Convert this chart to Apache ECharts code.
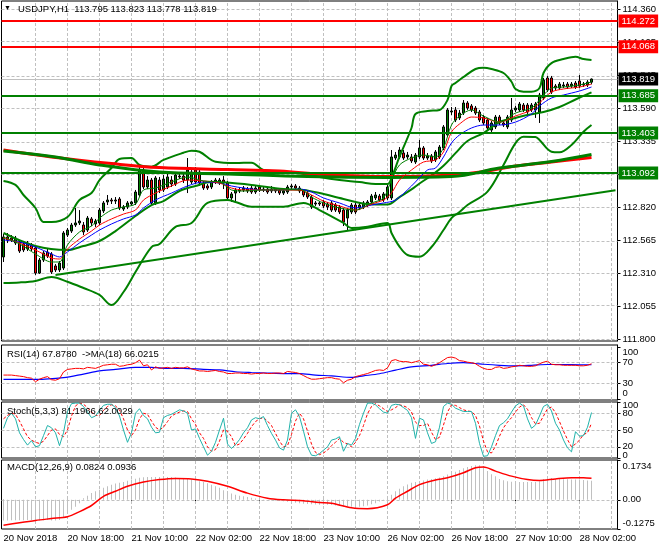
<!DOCTYPE html>
<html><head><meta charset="utf-8">
<script src="https://cdn.jsdelivr.net/npm/echarts@6/dist/echarts.min.js"></script>
<style>html,body{margin:0;padding:0;background:#fff}#c{width:660px;height:550px}</style>
</head><body><div id="c"></div>
<script>
// ---------- data ----------
const xTickLabels = ['20 Nov 2018','20 Nov 18:00','21 Nov 10:00','22 Nov 02:00','22 Nov 18:00','23 Nov 10:00','26 Nov 02:00','26 Nov 18:00','27 Nov 10:00','28 Nov 02:00'];
const priceTickLabels = ['114.360','114.105','113.845','113.590','113.335','113.080','112.820','112.565','112.310','112.055','111.800'];

const opens = [112.438,112.593,112.585,112.546,112.554,112.539,112.500,112.531,112.508,112.313,
112.414,112.476,112.461,112.368,112.337,112.352,112.608,112.639,112.686,112.702,
112.686,112.647,112.733,112.694,112.702,112.795,112.865,112.880,112.872,112.888,
112.810,112.826,112.849,112.857,112.919,113.113,112.981,113.035,112.857,113.035,
112.958,112.981,113.035,113.004,113.066,113.066,113.035,113.020,113.113,113.097,
113.012,112.989,112.981,113.020,113.012,113.035,113.012,112.896,112.934,112.950,
112.958,112.965,112.973,112.942,112.981,112.958,112.965,112.950,112.965,112.958,
112.934,112.942,112.981,112.989,112.973,112.950,112.934,112.903,112.849,112.857,
112.865,112.849,112.857,112.841,112.826,112.802,112.740,112.787,112.841,112.818,
112.826,112.841,112.865,112.896,112.911,112.880,112.896,112.896,113.206,113.214,
113.245,113.214,113.214,113.175,113.214,113.284,113.206,113.222,113.191,113.214,
113.284,113.385,113.563,113.579,113.517,113.555,113.633,113.610,113.594,113.563,
113.524,113.501,113.423,113.447,113.524,113.478,113.447,113.501,113.579,113.579,
113.617,113.617,113.579,113.579,113.563,113.672,113.827,113.827,113.765,113.749,
113.765,113.780,113.765,113.788,113.804,113.773,113.773,113.795];
const closes = [112.593,112.570,112.570,112.585,112.484,112.492,112.546,112.500,112.313,112.414,
112.469,112.445,112.321,112.337,112.391,112.624,112.647,112.686,112.702,112.717,
112.632,112.740,112.702,112.717,112.802,112.857,112.880,112.872,112.880,112.818,
112.826,112.857,112.865,112.942,113.113,112.981,113.035,112.857,113.051,112.958,
113.043,113.059,113.004,113.074,113.059,113.035,113.113,113.097,113.020,113.012,
112.973,112.973,113.020,113.035,113.035,113.012,112.896,112.927,112.958,112.958,
112.973,112.950,112.942,112.973,112.958,112.965,112.942,112.965,112.950,112.934,
112.950,112.981,112.989,112.973,112.950,112.919,112.903,112.826,112.857,112.849,
112.834,112.826,112.802,112.802,112.787,112.709,112.802,112.841,112.787,112.841,
112.857,112.865,112.911,112.919,112.880,112.927,112.981,113.214,113.229,113.268,
113.206,113.229,113.183,113.229,113.284,113.206,113.222,113.183,113.253,113.291,
113.447,113.579,113.571,113.501,113.555,113.633,113.594,113.579,113.555,113.501,
113.478,113.439,113.478,113.524,113.478,113.462,113.524,113.579,113.594,113.625,
113.579,113.563,113.617,113.625,113.695,113.811,113.734,113.718,113.749,113.780,
113.773,113.757,113.780,113.757,113.765,113.780,113.796,113.819];
const lows = [112.399,112.546,112.554,112.531,112.469,112.476,112.484,112.484,112.298,112.306,
112.399,112.430,112.306,112.321,112.321,112.337,112.593,112.624,112.671,112.686,
112.608,112.632,112.678,112.671,112.686,112.779,112.841,112.849,112.849,112.802,
112.795,112.810,112.834,112.841,112.903,112.965,112.965,112.841,112.841,112.934,
112.942,112.965,112.981,112.989,113.043,113.012,112.934,113.004,113.004,112.989,
112.958,112.958,112.965,113.004,112.997,112.965,112.872,112.865,112.865,112.934,
112.942,112.934,112.927,112.927,112.942,112.942,112.927,112.934,112.934,112.919,
112.919,112.927,112.965,112.958,112.934,112.903,112.888,112.810,112.834,112.834,
112.818,112.802,112.787,112.787,112.771,112.678,112.647,112.771,112.771,112.802,
112.810,112.826,112.849,112.880,112.865,112.865,112.880,112.880,113.191,113.198,
113.191,113.198,113.167,113.160,113.198,113.191,113.191,113.167,113.175,113.198,
113.268,113.369,113.540,113.485,113.501,113.540,113.579,113.563,113.540,113.485,
113.462,113.423,113.408,113.431,113.462,113.447,113.431,113.485,113.563,113.563,
113.563,113.548,113.563,113.517,113.478,113.656,113.718,113.703,113.734,113.734,
113.749,113.742,113.749,113.742,113.749,113.757,113.757,113.778];
const highs = [112.616,112.624,112.608,112.601,112.570,112.554,112.562,112.546,112.523,112.430,
112.484,112.500,112.476,112.383,112.407,112.639,112.663,112.702,112.818,112.802,
112.709,112.756,112.748,112.733,112.818,112.872,112.919,112.896,112.903,112.903,
112.841,112.872,112.872,112.958,113.136,113.128,113.066,113.051,113.066,113.059,
113.074,113.082,113.066,113.097,113.090,113.082,113.206,113.113,113.136,113.113,
113.028,113.004,113.035,113.051,113.051,113.066,113.028,112.942,112.973,112.981,
112.989,112.981,112.989,112.989,112.997,112.981,112.981,112.989,112.973,112.973,
112.965,112.997,113.004,113.004,112.989,112.965,112.950,112.919,112.872,112.872,
112.880,112.865,112.872,112.857,112.841,112.818,112.818,112.857,112.857,112.857,
112.872,112.880,112.927,112.942,112.927,112.942,112.997,113.268,113.253,113.291,
113.268,113.253,113.237,113.245,113.346,113.299,113.245,113.237,113.268,113.307,
113.462,113.594,113.602,113.602,113.579,113.656,113.648,113.625,113.610,113.579,
113.540,113.517,113.493,113.540,113.540,113.493,113.540,113.672,113.610,113.641,
113.633,113.633,113.633,113.641,113.711,113.827,113.843,113.843,113.780,113.796,
113.796,113.796,113.796,113.804,113.850,113.796,113.811,113.823];

// Bollinger bands (read at sampled bars: [bar, price])
const bbUpper = [[0,113.028],[3,112.997],[5,112.919],[8,112.818],[10,112.709],[12,112.709],[16,112.748],[19,112.880],[22,112.934],[24,113.035],[27,113.128],[29,113.198],[32,113.206],[34,113.152],[37,113.139],[40,113.191],[45,113.247],[47,113.263],[49,113.255],[53,113.177],[58,113.167],[62,113.170],[65,113.113],[70,113.100],[77,113.074],[79,113.059],[84,113.035],[89,113.020],[93,113.004],[96,113.004],[97,113.051],[99,113.216],[102,113.439],[103,113.548],[106,113.571],[109,113.579],[111,113.656],[112,113.765],[113,113.788],[115,113.835],[118,113.897],[120,113.907],[122,113.897],[125,113.866],[127,113.798],[128,113.742],[130,113.721],[132,113.721],[134,113.749],[135,113.866],[137,113.943],[140,113.974],[143,113.992],[145,113.974],[147,113.967]];
const bbMiddle = [[0,112.624],[8,112.523],[16,112.492],[20,112.523],[24,112.562],[28,112.639],[33,112.756],[37,112.841],[40,112.872],[44,112.950],[48,112.989],[52,113.020],[56,113.016],[62,112.997],[70,112.965],[75,112.958],[79,112.934],[85,112.888],[91,112.849],[96,112.845],[99,112.903],[102,112.962],[104,113.008],[107,113.071],[110,113.146],[113,113.244],[116,113.338],[120,113.400],[124,113.485],[128,113.517],[131,113.540],[135,113.563],[139,113.602],[143,113.660],[147,113.716]];
const bbLower = [[0,112.236],[4,112.240],[8,112.252],[12,112.282],[16,112.246],[20,112.197],[24,112.143],[27,112.065],[30,112.166],[33,112.321],[37,112.515],[39,112.539],[43,112.671],[47,112.702],[51,112.857],[56,112.880],[58,112.865],[62,112.828],[70,112.828],[75,112.857],[79,112.802],[85,112.702],[87,112.663],[91,112.673],[96,112.702],[97,112.624],[99,112.518],[101,112.453],[104,112.440],[107,112.515],[110,112.647],[112,112.740],[114,112.787],[116,112.841],[121,112.945],[125,113.152],[128,113.322],[130,113.371],[133,113.369],[134,113.346],[137,113.255],[139,113.250],[142,113.307],[145,113.410],[147,113.462]];
// slow moving averages
const slowMaRed = [[0,113.268],[12,113.214],[27,113.163],[39,113.132],[56,113.117],[69,113.105],[80,113.078],[96,113.062],[112,113.074],[120,113.101],[128,113.144],[137,113.175],[147,113.210]];
const slowMaGreen = [[0,113.260],[13,113.214],[24,113.152],[39,113.097],[56,113.082],[76,113.062],[96,113.055],[112,113.062],[124,113.128],[137,113.179],[147,113.233]];
// fast moving averages
const fastMaBars = [0,4,8,12,14,16,19,22,24,27,30,33,35,38,42,46,50,54,57,60,65,70,74,77,80,84,88,92,95,97,99,102,105,108,110,112,114,117,120,124,128,132,134,137,140,144,147];
const fastMaRed = [112.585,112.546,112.492,112.430,112.422,112.500,112.577,112.639,112.686,112.733,112.771,112.802,112.880,112.934,112.989,113.035,113.028,113.012,112.973,112.958,112.958,112.958,112.958,112.919,112.872,112.834,112.802,112.849,112.880,112.934,113.035,113.113,113.175,113.191,113.253,113.408,113.470,113.524,113.517,113.485,113.532,113.579,113.633,113.718,113.742,113.757,113.780];
const fastMaGreen = [112.593,112.539,112.461,112.399,112.399,112.531,112.632,112.678,112.740,112.802,112.826,112.849,112.958,112.973,113.020,113.059,113.028,113.020,112.958,112.950,112.958,112.958,112.965,112.903,112.857,112.818,112.802,112.857,112.896,113.035,113.152,113.206,113.229,113.214,113.284,113.462,113.532,113.579,113.532,113.485,113.555,113.594,113.656,113.749,113.757,113.773,113.796];
const fastMaBlue = [[0,112.570],[4,112.554],[8,112.515],[12,112.461],[14,112.438],[16,112.477],[19,112.547],[22,112.608],[24,112.647],[27,112.694],[30,112.733],[33,112.764],[35,112.818],[38,112.880],[42,112.934],[46,112.989],[50,113.020],[54,113.012],[57,112.989],[60,112.973],[65,112.958],[70,112.958],[74,112.965],[77,112.942],[80,112.896],[84,112.857],[88,112.818],[92,112.841],[95,112.857],[98,112.880],[102,112.989],[106,113.113],[108,113.128],[110,113.214],[112,113.323],[114,113.385],[117,113.439],[120,113.462],[124,113.462],[128,113.485],[132,113.548],[134,113.610],[137,113.672],[140,113.695],[144,113.726],[147,113.757]];
// levels
const resistanceLevels = ['114.272', '114.068'];
const supportLevels = ['113.685', '113.403', '113.092'];
const lastPrice = '113.819';
const trendLine = [[13,112.298],[153,112.956]];

// RSI(14) and its MA(18)
const rsi = [46,46,46,45,44,43,41,40,33,38, 41,43,37,36,39,52,57,58,59,59, 58,61,60,59,62,65,66,67,67,63,
64,66,67,70,75,64,66,56,62,59, 60,61,59,61,60,60,62,58,56,54, 54,53,54,55,53,52,49,49,50,50,
49,49,48,49,49,50,49,49,50,50, 49,53,52,51,49,45,41,38,38,39, 40,41,41,39,38,31,36,38,43,45,
47,49,52,55,56,55,60,74,76,73, 72,72,70,72,74,67,66,63,66,70, 75,80,81,79,74,73,71,70,68,63,
59,57,57,61,62,59,60,62,63,65, 64,63,63,64,68,71,73,67,66,66, 65,65,65,65,64,64,65,67.878];
const rsiMa = [[0,37.6],[8,37.6],[15,41],[20,48],[24,54],[28,57],[33,61],[37,61],[41,59],[45,59],[50,57],[54,56],[58,52.5],[62,51],[66,50],[70,49],[74,49],[78,46],[82,44.5],[87,41.5],[90,44.5],[94,48.6],[98,55.6],[102,62],[107,65],[111,68.5],[115,70],[118,68.5],[120,67],[124,65],[128,64],[132,65],[136,66.5],[140,66.5],[144,66],[147,66.02]];
// Stochastic(5,3,3)
const stochK = [53,72,80,70,45,33,23,31,20,22, 40,58,54,45,22,45,83,97,98,98, 92,82,72,75,85,94,96,96,90,75,
50,28,45,80,88,76,70,55,45,46, 72,76,78,82,86,84,80,50,52,35, 20,5,12,28,50,71,25,17,24,33,
45,54,68,72,70,74,58,44,32,18, 14,32,80,86,74,48,20,5,4,8, 14,20,32,34,38,12,26,23,35,60,
80,98,98,95,88,82,80,94,96,95, 90,85,72,35,71,68,45,26,29,55, 92,98,96,89,86,83,83,83,62,26,
3,4,20,40,58,63,70,82,93,98, 93,70,53,59,75,92,96,84,62,50, 32,18,11,47,39,40,55,81.2];
const stochD = [70,76,80,78,66,52,38,32,28,26, 30,40,50,52,42,38,50,75,93,98, 96,90,82,76,76,85,92,95,93,86,
70,50,40,50,70,80,78,66,55,50, 55,65,75,79,82,84,83,70,60,45, 35,20,12,15,30,50,48,38,22,25,
34,44,56,65,70,72,66,58,44,30, 20,22,42,66,80,70,48,25,10,6, 9,14,22,28,35,28,25,20,28,40,
58,79,92,97,93,88,83,86,90,95, 93,90,82,64,58,58,62,46,33,37, 59,82,95,94,90,86,84,83,76,57,
30,11,9,21,39,54,64,72,82,91, 95,87,72,61,62,75,88,91,81,65, 48,33,20,25,32,42,45,62.0];
// MACD(12,26,9)
const macdMain = [-0.090,-0.090,-0.089,-0.089,-0.089,-0.089,-0.088,-0.088,-0.090,-0.090,
-0.089,-0.088,-0.090,-0.090,-0.088,-0.078,-0.060,-0.044,-0.030,-0.015,
0.007,0.018,0.030,0.037,0.044,0.052,0.059,0.065,0.071,0.074,
0.077,0.083,0.088,0.092,0.096,0.098,0.099,0.099,0.099,0.099,
0.099,0.099,0.099,0.097,0.094,0.092,0.091,0.089,0.086,0.081,
0.077,0.072,0.066,0.059,0.052,0.042,0.032,0.027,0.022,0.018,
0.015,0.012,0.009,0.006,0.003,0.001,0.000,-0.002,-0.004,-0.005,
-0.007,-0.009,-0.011,-0.013,-0.015,-0.017,-0.018,-0.020,-0.021,-0.022,
-0.022,-0.022,-0.023,-0.025,-0.027,-0.030,-0.031,-0.031,-0.031,-0.030,
-0.028,-0.025,-0.020,-0.015,-0.008,-0.002,0.007,0.022,0.037,0.048,
0.059,0.067,0.074,0.078,0.081,0.084,0.088,0.091,0.094,0.097,
0.103,0.110,0.115,0.122,0.130,0.137,0.143,0.147,0.150,0.150,
0.145,0.125,0.111,0.103,0.091,0.085,0.081,0.079,0.077,0.077,
0.077,0.077,0.077,0.078,0.081,0.091,0.096,0.095,0.091,0.090,
0.089,0.089,0.088,0.088,0.088,0.086,0.084,0.0824];
const macdSignal = [[0,-0.111],[4,-0.100],[8,-0.090],[12,-0.082],[16,-0.074],[19,-0.052],[22,-0.025],[25,0.015],[28,0.037],[31,0.059],[35,0.077],[39,0.088],[43,0.093],[47,0.091],[51,0.081],[56,0.059],[61,0.029],[66,0.007],[70,0.000],[75,-0.004],[79,-0.012],[82,-0.015],[87,-0.035],[91,-0.039],[96,-0.022],[98,0.007],[101,0.037],[104,0.066],[108,0.086],[111,0.096],[115,0.118],[118,0.140],[120,0.143],[123,0.125],[127,0.103],[131,0.088],[134,0.084],[138,0.091],[142,0.096],[145,0.096],[147,0.0936]];

// ---------- chart ----------
const nSlots = 154;
const slots = Array.from({length: nSlots}, (_, i) => String(i));
const font = "'Liberation Sans', Arial, sans-serif";
const fs = 9.5;
const GREEN = '#008000', RED = '#ff0000', BLUE = '#0000ff', SILVER = '#c0c0c0';
const candles = opens.map((o, i) => [o, closes[i], lows[i], highs[i]]);
const ranges = [[111.7857, 114.4247], [-2.4, 104.4], [0, 100], [-0.1275, 0.1734]];
function dash() { return {color: SILVER, width: 1, type: [3, 2]}; }
function hLines(values) {
  return {silent: true, symbol: ['none','none'], z: 1, animation: false,
    label: {show: false}, lineStyle: dash(), data: values.map(v => ({yAxis: v}))};
}
const priceTicks = priceTickLabels.map(Number);

const grids = [
  {left: 1.5, width: 616, top: 1, height: 340},
  {left: 1.5, width: 616, top: 345, height: 55},
  {left: 1.5, width: 616, top: 402, height: 56},
  {left: 1.5, width: 616, top: 460, height: 69}
].map(g => Object.assign(g, {show: true, borderColor: '#000', borderWidth: 1, backgroundColor: 'transparent'}));

function xAxisFor(gi, show) {
  return {type: 'category', gridIndex: gi, data: slots, boundaryGap: true,
    axisLine: {show: false}, splitLine: {show: false},
    axisTick: show ? {show: true, alignWithLabel: true, interval: i => i % 16 === 0, length: 4, lineStyle: {color: '#000'}} : {show: false},
    axisLabel: show ? {show: true, interval: i => i % 16 === 0, formatter: (v, i) => xTickLabels[i / 16] || '', align: 'left', margin: 4, color: '#000', fontSize: fs, fontFamily: font} : {show: false}};
}
const richBase = {fontSize: fs, fontFamily: font, color: '#000'};
function yAxisFor(gi, values, fmt, topPad, botPad, noLine) {
  return {type: 'value', gridIndex: gi, position: 'right', min: ranges[gi][0], max: ranges[gi][1], scale: true,
    axisLine: {show: !noLine, lineStyle: {color: '#000'}},
    axisTick: {show: true, length: 3, customValues: values, lineStyle: {color: '#000'}},
    splitLine: {show: false},
    axisLabel: {show: true, customValues: values, showMinLabel: true, showMaxLabel: true, hideOverlap: false,
      margin: 5, color: '#000', fontSize: fs, fontFamily: font,
      formatter: fmt,
      rich: {t: Object.assign({padding: [topPad || 0, 0, 0, 0]}, richBase), b: Object.assign({padding: [0, 0, botPad || 0, 0]}, richBase)}}};
}

const boxLabel = {show: true, position: 'end', distance: 1, color: '#fff', padding: [2, 3, 1, 3], fontSize: fs, fontFamily: font, formatter: p => p.name};
const levelData = [];
resistanceLevels.forEach(s => levelData.push({name: s, yAxis: Number(s), lineStyle: {color: RED, width: 2, type: 'solid'},
  label: Object.assign({}, boxLabel, {backgroundColor: RED})}));
supportLevels.forEach(s => levelData.push({name: s, yAxis: Number(s), lineStyle: {color: GREEN, width: 2, type: 'solid'},
  label: Object.assign({}, boxLabel, {backgroundColor: GREEN})}));
levelData.push([{coord: trendLine[0], lineStyle: {color: GREEN, width: 2, type: 'solid'}, label: {show: false}},
  {coord: trendLine[1]}]);

function line(name, data, color, width, gi, extra) {
  return Object.assign({type: 'line', name, data, xAxisIndex: gi, yAxisIndex: gi, showSymbol: false, symbol: 'none',
    lineStyle: {color, width}, itemStyle: {color}, z: 3, silent: true, animation: false}, extra || {});
}

const priceGrid = hLines(priceTicks);
priceGrid.data.push({name: lastPrice, yAxis: Number(lastPrice), lineStyle: {color: SILVER, width: 1, type: 'solid'},
  label: Object.assign({}, boxLabel, {backgroundColor: '#000'})});

const tstyle = {fontSize: fs, fontFamily: font, color: '#000', fontWeight: 'normal'};
const option = {
  animation: false,
  backgroundColor: '#fff',
  title: [
    {text: '▼', left: 4, top: 5, padding: 0, textStyle: {fontSize: 7, color: '#000', fontWeight: 'normal'}},
    {text: 'USDJPY,H1  113.795 113.823 113.778 113.819', left: 18, top: 4.5, padding: 0, textStyle: tstyle},
    {text: 'RSI(14) 67.8780  ->MA(18) 66.0215', left: 7, top: 349.5, padding: 0, textStyle: tstyle},
    {text: 'Stoch(5,3,3) 81.1966 62.0029', left: 7, top: 406, padding: 0, textStyle: tstyle},
    {text: 'MACD(12,26,9) 0.0824 0.0936', left: 7, top: 462.5, padding: 0, textStyle: tstyle}
  ],
  grid: grids,
  xAxis: [xAxisFor(0, false), xAxisFor(1, false), xAxisFor(2, false), xAxisFor(3, true)],
  yAxis: [
    yAxisFor(0, priceTicks, v => v.toFixed(3)),
    yAxisFor(1, [100, 70, 30, 0], v => v === 100 ? '{t|100}' : v === 0 ? '{b|0}' : String(v), 11, 11),
    yAxisFor(2, [80, 50, 20], v => String(v)),
    yAxisFor(3, [0.1734, 0, -0.1275], v => v === 0 ? '0.00' : v > 0 ? '{t|0.1734}' : '{b|-0.1275}', 13, 12),
    yAxisFor(2, [100, 0], v => v === 100 ? '{t|100}' : '{b|0}', 6, 6, true)
  ],
  series: [
    {type: 'candlestick', name: 'USDJPY', data: candles, xAxisIndex: 0, yAxisIndex: 0, barWidth: 3, z: 2, silent: true,
      itemStyle: {color: GREEN, color0: RED, borderColor: '#000', borderColor0: '#000', borderWidth: 1},
      markLine: {silent: true, symbol: ['none','none'], animation: false, data: levelData}},
    line('bbMiddle', bbMiddle, GREEN, 2, 0, {smooth: 0.35, markLine: priceGrid}),
    line('bbUpper', bbUpper, GREEN, 2, 0, {smooth: 0.35}),
    line('bbLower', bbLower, GREEN, 2, 0, {smooth: 0.35}),
    line('slowMaRed', slowMaRed, RED, 3, 0, {smooth: 0.4}),
    line('slowMaGreen', slowMaGreen, GREEN, 3, 0, {smooth: 0.4}),
    line('fastMaBlue', fastMaBlue, BLUE, 1, 0, {smooth: 0.3}),
    line('fastMaRed', fastMaBars.map((b, k) => [b, fastMaRed[k]]), RED, 1, 0, {smooth: 0.3}),
    line('fastMaGreen', fastMaBars.map((b, k) => [b, fastMaGreen[k]]), GREEN, 1, 0, {smooth: 0.3}),
    line('rsiMa', rsiMa, BLUE, 1.2, 1, {smooth: 0.3, markLine: hLines([70, 30])}),
    line('rsi', rsi, RED, 1, 1),
    line('stochD', stochD, RED, 1, 2, {lineStyle: {color: RED, width: 1, type: [3, 2]}, markLine: hLines([80, 50, 20])}),
    line('stochK', stochK, '#20b2aa', 1, 2),
    {type: 'bar', name: 'macd', data: macdMain, xAxisIndex: 3, yAxisIndex: 3, barWidth: 1, silent: true, z: 2,
      itemStyle: {color: SILVER}},
    line('signal', macdSignal, RED, 1.5, 3, {smooth: 0.3, markLine: hLines([0])})
  ]
};
const chart = echarts.init(document.getElementById('c'), null, {renderer: 'canvas'});
chart.setOption(option);

// vertical grid every 8 bars: positions taken from the chart's own axes
const vLines = [];
for (let gi = 0; gi < 4; gi++) {
  const [lo, hi] = ranges[gi];
  for (let i = 8; i < nSlots; i += 8) {
    const a = chart.convertToPixel({xAxisIndex: gi, yAxisIndex: gi}, [i, lo]);
    const b = chart.convertToPixel({xAxisIndex: gi, yAxisIndex: gi}, [i, hi]);
    if (!a || !b || !isFinite(a[0])) continue;
    const x = Math.floor(a[0]) + 0.5;
    vLines.push({type: 'line', silent: true, z: 1, shape: {x1: x, y1: a[1], x2: x, y2: b[1]},
      style: {stroke: SILVER, lineWidth: 1, lineDash: [3, 2]}});
  }
}
chart.setOption({graphic: {elements: vLines}});
</script></body></html>
